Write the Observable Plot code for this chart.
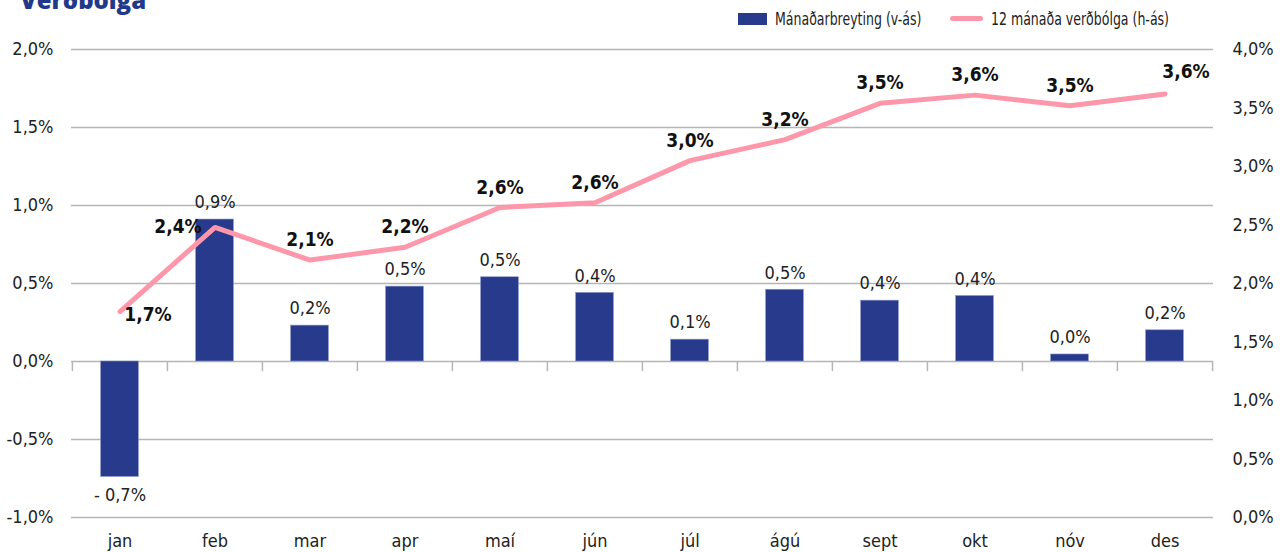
<!DOCTYPE html>
<html>
<head>
<meta charset="utf-8">
<script src="https://cdn.jsdelivr.net/npm/d3@7"></script>
<script src="https://cdn.jsdelivr.net/npm/@observablehq/plot@0.6"></script>
<style>
  html, body { margin: 0; padding: 0; background: #fff; overflow: hidden; }
  #wrap { position: relative; width: 1282px; height: 552px; }
  #chart { position: absolute; left: 0; top: 0; }
  .cond { font-family: "Liberation Sans Narrow", "DejaVu Sans Condensed", "Roboto", sans-serif; font-stretch: condensed; }
  #title { position: absolute; left: 20px; top: -12px; font-family: "Open Sans", sans-serif; font-weight: 800; font-size: 24px; line-height: 24px; color: #1f3a8a; }
  #legend { position: absolute; top: 8px; left: 0; width: 1282px; height: 24px; font-size: 17px; color: #222; }
  .sw { position: absolute; }
  .lt { position: absolute; line-height: 22px; white-space: nowrap; transform: scaleX(0.82); transform-origin: 0 50%; }
</style>
</head>
<body>
<div id="wrap">
  <div id="chart"></div>
  <div id="title">Verðbólga</div>
  <div id="legend" class="cond">
    <div class="sw" style="left:738px; top:5px; width:29px; height:12px; background:#283a8b;"></div>
    <div class="lt" style="left:775px; top:0px;">Mánaðarbreyting (v-ás)</div>
    <div class="sw" style="left:950px; top:8px; width:33px; height:5px; border-radius:3px; background:#ff97ab;"></div>
    <div class="lt" style="left:991px; top:0px;">12 mánaða verðbólga (h-ás)</div>
  </div>
</div>
<script>
// ---- data ----
const months = ["jan", "feb", "mar", "apr", "maí", "jún", "júl", "ágú", "sept", "okt", "nóv", "des"];
const monthlyChange = [-0.74, 0.91, 0.23, 0.48, 0.54, 0.44, 0.14, 0.46, 0.39, 0.42, 0.045, 0.20];
const monthlyLabels = ["- 0,7%", "0,9%", "0,2%", "0,5%", "0,5%", "0,4%", "0,1%", "0,5%", "0,4%", "0,4%", "0,0%", "0,2%"];
const annualInflation = [1.76, 2.48, 2.20, 2.31, 2.65, 2.69, 3.05, 3.23, 3.54, 3.61, 3.52, 3.62];
const annualLabels = ["1,7%", "2,4%", "2,1%", "2,2%", "2,6%", "2,6%", "3,0%", "3,2%", "3,5%", "3,6%", "3,5%", "3,6%"];
const leftTicks = [-1, -0.5, 0, 0.5, 1, 1.5, 2];
const leftTickLabels = ["-1,0%", "-0,5%", "0,0%", "0,5%", "1,0%", "1,5%", "2,0%"];
const rightTicks = [0, 0.5, 1, 1.5, 2, 2.5, 3, 3.5, 4];
const rightTickLabels = ["0,0%", "0,5%", "1,0%", "1,5%", "2,0%", "2,5%", "3,0%", "3,5%", "4,0%"];

// right axis [0,4] mapped onto left axis [-1,2]
const toLeft = r => r * 0.75 - 1;

const data = months.map((m, i) => ({
  month: m,
  change: monthlyChange[i],
  changeLabel: monthlyLabels[i],
  annual: annualInflation[i],
  annualLabel: annualLabels[i]
}));

const W = 1282, H = 552, ML = 71, MR = 69, MT = 49, MB = 35;
const step = (W - ML - MR) / months.length;
const font = `"Liberation Sans Narrow", "DejaVu Sans Condensed", "Roboto", sans-serif`;
const bold = { fontSize: 19, fontWeight: "bold", fill: "#111" };

const chart = Plot.plot({
  width: W,
  height: H,
  marginLeft: ML,
  marginRight: MR,
  marginTop: MT,
  marginBottom: MB,
  style: { fontFamily: font, fontSize: "18px", color: "#222", background: "transparent" },
  x: { domain: months, padding: 0, label: null },
  y: { domain: [-1, 2], label: null },
  marks: [
    Plot.ruleY(leftTicks.filter(t => t !== 0), { stroke: "#b5b5b5", strokeWidth: 1.5 }),
    Plot.ruleY([0], { stroke: "#b5b5b5", strokeWidth: 1.5 }),
    Plot.ruleX(data, { x: "month", dx: -step / 2, y1: 0, y2: -0.065, stroke: "#b5b5b5", strokeWidth: 1.5 }),
    Plot.ruleX(data.slice(-1), { x: "month", dx: step / 2, y1: 0, y2: -0.065, stroke: "#b5b5b5", strokeWidth: 1.5 }),
    Plot.barY(data, { x: "month", y: "change", fill: "#283a8b", stroke: "#8a98c8", strokeWidth: 0.6, insetLeft: 28.6, insetRight: 28.6 }),
    Plot.text(data.filter(d => d.change >= 0), { x: "month", y: "change", text: "changeLabel", dy: -17, fontSize: 18, fill: "#222" }),
    Plot.text(data.filter(d => d.change < 0), { x: "month", y: "change", text: "changeLabel", dy: 18, fontSize: 18, fill: "#222" }),
    Plot.line(data, { x: "month", y: d => toLeft(d.annual), stroke: "#ff97ab", strokeWidth: 5, strokeLinecap: "round", strokeLinejoin: "miter" }),
    Plot.text(data.slice(2, 11), { x: "month", y: d => toLeft(d.annual), text: "annualLabel", dy: -20, ...bold }),
    Plot.text(data.slice(0, 1), { x: "month", y: d => toLeft(d.annual), text: "annualLabel", dx: 28, dy: 3, ...bold }),
    Plot.text(data.slice(1, 2), { x: "month", y: d => toLeft(d.annual), text: "annualLabel", dx: -37, dy: 0, ...bold }),
    Plot.text(data.slice(11), { x: "month", y: d => toLeft(d.annual), text: "annualLabel", dx: 21, dy: -22, ...bold }),
    Plot.axisY({ anchor: "left", ticks: leftTicks, tickFormat: (d, i) => leftTickLabels[i], tickSize: 0, tickPadding: 18, fontSize: 18, label: null }),
    Plot.axisY({ anchor: "right", ticks: rightTicks.map(toLeft), tickFormat: (d, i) => rightTickLabels[i], tickSize: 0, tickPadding: 19, fontSize: 18, label: null }),
    Plot.axisX({ anchor: "bottom", tickSize: 0, tickPadding: 17, fontSize: 18, label: null })
  ]
});
document.getElementById("chart").appendChild(chart);
</script>
</body>
</html>
